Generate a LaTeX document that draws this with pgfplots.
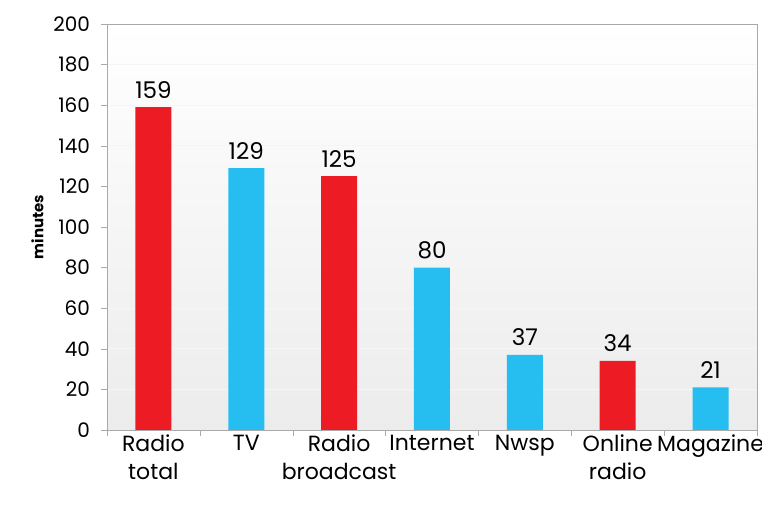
\documentclass[border=0pt]{standalone}
\usepackage{pgfplots}
\pgfplotsset{compat=1.18}
\usepackage{fontspec}
\setmainfont{Poppins}
\definecolor{barred}{RGB}{237,28,36}
\definecolor{barblue}{RGB}{38,190,240}
\definecolor{axgray}{RGB}{170,170,170}
\begin{document}
\begin{tikzpicture}
\useasboundingbox (0,0) rectangle (381pt,253pt);
\begin{axis}[
  at={(53.5pt,38pt)}, anchor=south west,
  scale only axis, width=325pt, height=203pt,
  ymin=0, ymax=200, ytick={0,20,...,200},
  xmin=-0.5, xmax=6.5,
  xtick={0,...,6},
  xticklabels={Radio\\total, TV, Radio\\broadcast, Internet, Nwsp, Online\\radio, Magazine},
  xtick pos=bottom, ytick pos=left,
  major x tick style={draw=none},
  minor xtick={-0.5,0.5,...,6.5},
  minor tick length=3pt,
  major tick length=3pt,
  tick align=outside,
  tick style={axgray},
  axis line style={axgray},
  ymajorgrids, grid style={gray!8},
  axis background/.style={top color=white, bottom color=gray!15},
  /pgf/number format/assume math mode=true,
  yticklabel style={font=\fontsize{10}{12}\selectfont, xshift=-2pt},
  xticklabel style={font=\fontsize{11}{14}\selectfont, align=center, anchor=north, yshift=4pt},
  ylabel={minutes}, ylabel style={font=\fontsize{7.5}{9}\selectfont\bfseries, yshift=-2pt},
  nodes near coords, nodes near coords style={font=\fontsize{11.5}{13}\selectfont, yshift=1pt},
  /pgf/bar width=18pt,
  every axis plot/.append style={ybar, draw=none},
]
\addplot[fill=barred] coordinates {(0,159) (2,125) (5,34)};
\addplot[fill=barblue] coordinates {(1,129) (3,80) (4,37) (6,21)};
\end{axis}
\end{tikzpicture}
\end{document}
